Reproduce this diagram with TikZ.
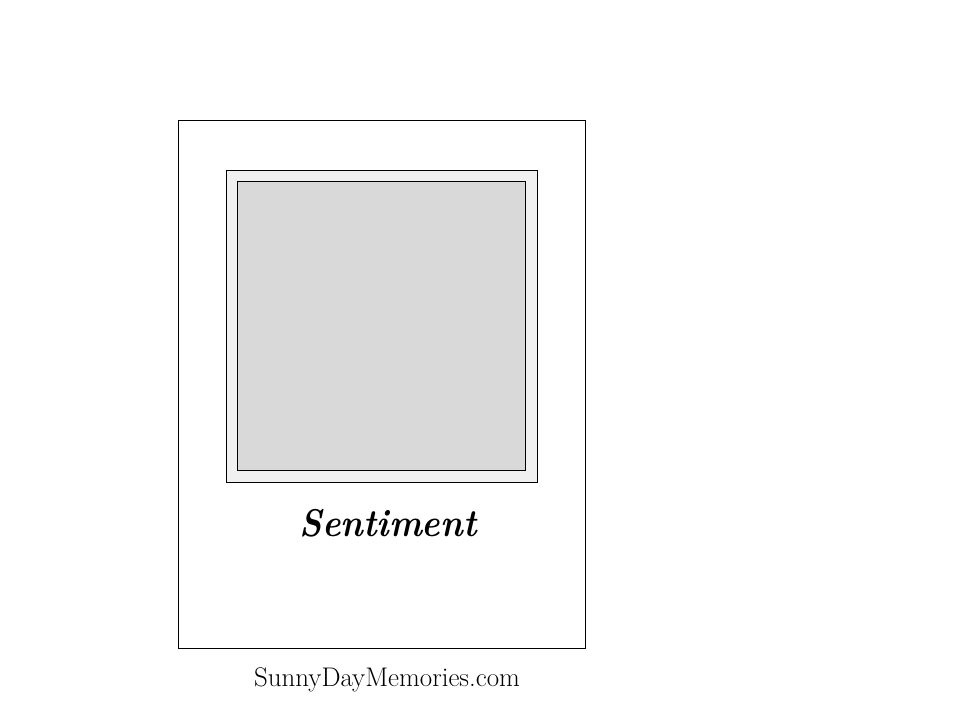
\documentclass[tikz,border=0pt]{standalone}
\usepackage{fontspec}
\begin{document}
\begin{tikzpicture}[x=0.75pt,y=-0.75pt,
  frame/.style={draw=black,line width=0.75pt},
  lbl/.style={inner sep=0pt,anchor=center}]
\useasboundingbox (0,0) rectangle (960,720);
\fill[white] (0,0) rectangle (960,720);
\draw[frame,fill=white] (178,121) rectangle (585,648);
\draw[frame,fill={rgb,255:red,240;green,240;blue,240}] (226,171) rectangle (537,482);
\draw[frame,fill={rgb,255:red,217;green,217;blue,217}] (237,182) rectangle (525,470);
\node[lbl,xscale=0.9] (sent) at (388,523) {\fontsize{29}{31}\selectfont\bfseries\itshape Sentiment};
\node[lbl] (site) at (387,680) {\fontsize{20.2}{22}\selectfont SunnyDayMemories.com};
\end{tikzpicture}
\end{document}
